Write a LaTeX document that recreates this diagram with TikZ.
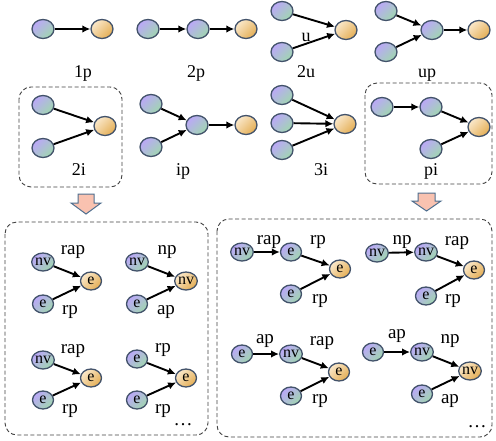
\documentclass[tikz,border=0pt]{standalone}
\usepackage{fontspec}
\setmainfont{Liberation Serif}
\usetikzlibrary{shapes.geometric,arrows.meta}
\definecolor{bpur}{HTML}{BBA8F8}
\definecolor{bgrn}{HTML}{A0D6B0}
\definecolor{ocre}{HTML}{FAE8CA}
\definecolor{odrk}{HTML}{E4AE55}
\definecolor{edgec}{HTML}{42526A}
\definecolor{pinkf}{HTML}{F9C2B0}
\definecolor{pinkd}{HTML}{4F6F8F}
\tikzset{
  gb/.style={ellipse,draw=edgec,line width=1.3pt,inner sep=0pt,minimum width=22pt,minimum height=19pt,
    top color=bpur,bottom color=bgrn,shading angle=45},
  go/.style={ellipse,draw=edgec,line width=1.3pt,inner sep=0pt,minimum width=22pt,minimum height=19pt,
    top color=ocre,bottom color=odrk,shading angle=45},
  sb/.style={gb,minimum width=21pt,minimum height=18pt,font=\fontsize{16}{16}\selectfont},
  so/.style={go,minimum width=21pt,minimum height=18pt,font=\fontsize{16}{16}\selectfont},
  arr/.style={-{Latex[length=8pt,width=7.5pt]},line width=1.9pt,black},
  lab/.style={anchor=base,inner sep=0pt,font=\fontsize{18}{18}\selectfont},
  blab/.style={anchor=base,inner sep=0pt,font=\fontsize{19}{19}\selectfont},
  dbox/.style={draw=black!75,dashed,dash pattern=on 4pt off 2.5pt,line width=0.9pt,rounded corners=12pt},
  barrow/.style={draw=pinkd,fill=pinkf,line width=1pt,line join=miter}
}
\begin{document}
\begin{tikzpicture}[x=1pt,y=-1pt]
\useasboundingbox (0,0) rectangle (496,440);
% dashed boxes
\draw[dbox] (19,87) rectangle (122,187);
\draw[dbox] (365,83) rectangle (492,184);
\draw[dbox] (5,222) rectangle (208,435);
\draw[dbox] (217,219) rectangle (492,437);
% block arrows
\draw[barrow] (78,194) -- (94,194) -- (94,203) -- (101,203) -- (86,214) -- (71,203) -- (78,203) -- cycle;
\draw[barrow] (418,193) -- (435,193) -- (435,201) -- (441,201) -- (426.5,211) -- (412,201) -- (418,201) -- cycle;

% 1p
\node[gb] (a1) at (43,29) {};
\node[go] (a2) at (102,29) {};
\draw[arr] (a1) -- (a2);
\node[lab] (l1p) at (83,77) {1p};
% 2p
\node[gb] (b1) at (148,29) {};
\node[gb] (b2) at (198,29) {};
\node[go] (b3) at (246,29) {};
\draw[arr] (b1) -- (b2);
\draw[arr] (b2) -- (b3);
\node[lab] (l2p) at (196,77) {2p};
% 2u
\node[gb] (c1) at (282,11) {};
\node[gb] (c2) at (282,52) {};
\node[go] (c3) at (346,30) {};
\draw[arr] (c1) -- (c3);
\draw[arr] (c2) -- (c3);
\node[lab] (lu) at (306,41) {u};
\node[lab] (l2u) at (306,77) {2u};
% up
\node[gb] (d1) at (386,11) {};
\node[gb] (d2) at (386,52) {};
\node[gb] (d3) at (432,30) {};
\node[go] (d4) at (479,30) {};
\draw[arr] (d1) -- (d3);
\draw[arr] (d2) -- (d3);
\draw[arr] (d3) -- (d4);
\node[lab] (lup) at (427,77) {up};

% 2i
\node[gb] (e1) at (43,105) {};
\node[gb] (e2) at (43,148) {};
\node[go] (e3) at (105,126) {};
\draw[arr] (e1) -- (e3);
\draw[arr] (e2) -- (e3);
\node[lab] (l2i) at (79,175) {2i};
% ip
\node[gb] (f1) at (151,104) {};
\node[gb] (f2) at (151,147) {};
\node[gb] (f3) at (197,125) {};
\node[go] (f4) at (246,125) {};
\draw[arr] (f1) -- (f3);
\draw[arr] (f2) -- (f3);
\draw[arr] (f3) -- (f4);
\node[lab] (lip) at (183,175) {ip};
% 3i
\node[gb] (g1) at (282,95) {};
\node[gb] (g2) at (282,123) {};
\node[gb] (g3) at (282,150) {};
\node[go] (g4) at (345,124) {};
\draw[arr] (g1) -- (g4);
\draw[arr] (g2) -- (g4);
\draw[arr] (g3) -- (g4);
\node[lab] (l3i) at (321,175) {3i};
% pi
\node[gb] (h1) at (382,107) {};
\node[gb] (h2) at (431,107) {};
\node[gb] (h3) at (431,149) {};
\node[go] (h4) at (479,127) {};
\draw[arr] (h1) -- (h2);
\draw[arr] (h2) -- (h4);
\draw[arr] (h3) -- (h4);
\node[lab] (lpi) at (431,175) {pi};

% bottom-left box
\node[sb] (p1) at (43,262) {nv};
\node[sb] (p2) at (43,304) {e};
\node[so] (p3) at (91,281) {e};
\draw[arr] (p1) -- (p3);
\draw[arr] (p2) -- (p3);
\node[blab] (pl1) at (73,254) {rap};
\node[blab] (pl2) at (70,314) {rp};

\node[sb] (q1) at (137,262) {nv};
\node[sb] (q2) at (137,304) {e};
\node[so] (q3) at (186,281) {nv};
\draw[arr] (q1) -- (q3);
\draw[arr] (q2) -- (q3);
\node[blab] (ql1) at (167,254) {np};
\node[blab] (ql2) at (166,314) {ap};

\node[sb] (r1) at (43,360) {nv};
\node[sb] (r2) at (43,400) {e};
\node[so] (r3) at (91,378) {e};
\draw[arr] (r1) -- (r3);
\draw[arr] (r2) -- (r3);
\node[blab] (rl1) at (73,353) {rap};
\node[blab] (rl2) at (70,413) {rp};

\node[sb] (s1) at (137,359) {e};
\node[sb] (s2) at (137,400) {e};
\node[so] (s3) at (186,378) {e};
\draw[arr] (s1) -- (s3);
\draw[arr] (s2) -- (s3);
\node[blab] (sl1) at (163,352) {rp};
\node[blab] (sl2) at (163,413) {rp};
\node[blab] (sdots) at (183,425) {\dots};

% bottom-right box
\node[sb] (t1) at (242,252) {nv};
\node[sb] (t2) at (291,252) {e};
\node[so] (t3) at (340,269) {e};
\node[sb] (t4) at (291,294) {e};
\draw[arr] (t1) -- (t2);
\draw[arr] (t2) -- (t3);
\draw[arr] (t4) -- (t3);
\node[blab] (tl1) at (269,244) {rap};
\node[blab] (tl2) at (318,244) {rp};
\node[blab] (tl3) at (320,303) {rp};

\node[sb] (u1) at (377,253) {nv};
\node[sb] (u2) at (426,252) {nv};
\node[so] (u3) at (474,270) {e};
\node[sb] (u4) at (426,296) {e};
\draw[arr] (u1) -- (u2);
\draw[arr] (u2) -- (u3);
\draw[arr] (u4) -- (u3);
\node[blab] (ul1) at (402,244) {np};
\node[blab] (ul2) at (457,245) {rap};
\node[blab] (ul3) at (453,303) {rp};

\node[sb] (v1) at (242,354) {e};
\node[sb] (v2) at (291,354) {nv};
\node[so] (v3) at (339,372) {e};
\node[sb] (v4) at (291,396) {e};
\draw[arr] (v1) -- (v2);
\draw[arr] (v2) -- (v3);
\draw[arr] (v4) -- (v3);
\node[blab] (vl1) at (265,343) {ap};
\node[blab] (vl2) at (322,345) {rap};
\node[blab] (vl3) at (320,403) {rp};

\node[sb] (w1) at (373,352) {e};
\node[sb] (w2) at (422,352) {nv};
\node[so] (w3) at (470,371) {nv};
\node[sb] (w4) at (422,394) {e};
\draw[arr] (w1) -- (w2);
\draw[arr] (w2) -- (w3);
\draw[arr] (w4) -- (w3);
\node[blab] (wl1) at (397,338) {ap};
\node[blab] (wl2) at (450,343) {np};
\node[blab] (wl3) at (450,403) {ap};
\node[blab] (wdots) at (477,427) {\dots};
\end{tikzpicture}
\end{document}
